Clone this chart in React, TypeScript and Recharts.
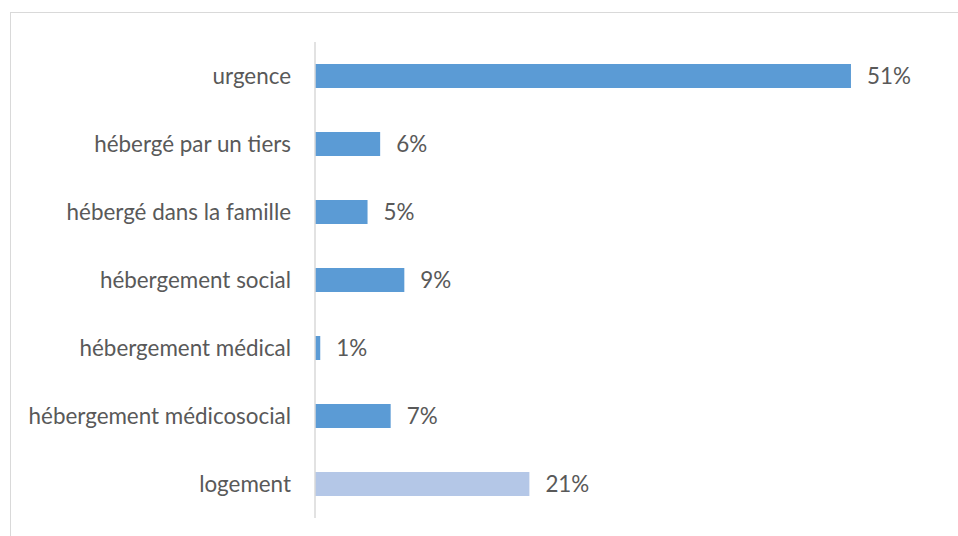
import { BarChart, Bar, XAxis, YAxis, LabelList, Cell } from "recharts";

// Situations de logement — share of people per category (%)
const categories = [
  "urgence",
  "hébergé par un tiers",
  "hébergé dans la famille",
  "hébergement social",
  "hébergement médical",
  "hébergement médicosocial",
  "logement",
];
const values = [51, 6.2, 5.0, 8.5, 0.5, 7.2, 20.4];
const valueLabels = ["51%", "6%", "5%", "9%", "1%", "7%", "21%"];
const highlighted = [false, false, false, false, false, false, true];

const BLUE = "#5B9BD5";
const LIGHT = "#B4C7E7";
const TEXT = "#595959";
const FONT = "Lato, 'Open Sans', sans-serif";
const FS = 22.4;

export default function App() {
  const data = categories.map((name, i) => ({
    name,
    value: values[i],
    label: valueLabels[i],
  }));

  return (
    <div style={{ position: "absolute", left: 0, top: 0, width: 958, height: 536, overflow: "hidden", background: "#fff" }}>
      <div
        style={{
          position: "absolute",
          left: 10,
          top: 12,
          width: 1000,
          height: 600,
          border: "1px solid #d9d9d9",
        }}
      />
      <div style={{ position: "absolute", left: 0, top: 0 }}>
        <BarChart
          width={958}
          height={536}
          data={data}
          layout="vertical"
          margin={{ top: 42, right: 65, bottom: 18, left: 0 }}
          style={{ fontFamily: FONT }}
        >
          <XAxis type="number" domain={[0, 55]} hide />
          <YAxis
            type="category"
            dataKey="name"
            width={315}
            tickLine={false}
            tickMargin={18}
            axisLine={{ stroke: "#d9d9d9", strokeWidth: 1.5 }}
            tick={{ fill: TEXT, fontSize: FS, fontFamily: FONT }}
            interval={0}
          />
          <Bar dataKey="value" barSize={24} isAnimationActive={false}>
            {data.map((d, i) => (
              <Cell key={d.name} fill={highlighted[i] ? LIGHT : BLUE} />
            ))}
            <LabelList
              dataKey="label"
              position="right"
              offset={16}
              fill={TEXT}
              fontSize={FS}
              fontFamily={FONT}
            />
          </Bar>
        </BarChart>
      </div>
    </div>
  );
}
